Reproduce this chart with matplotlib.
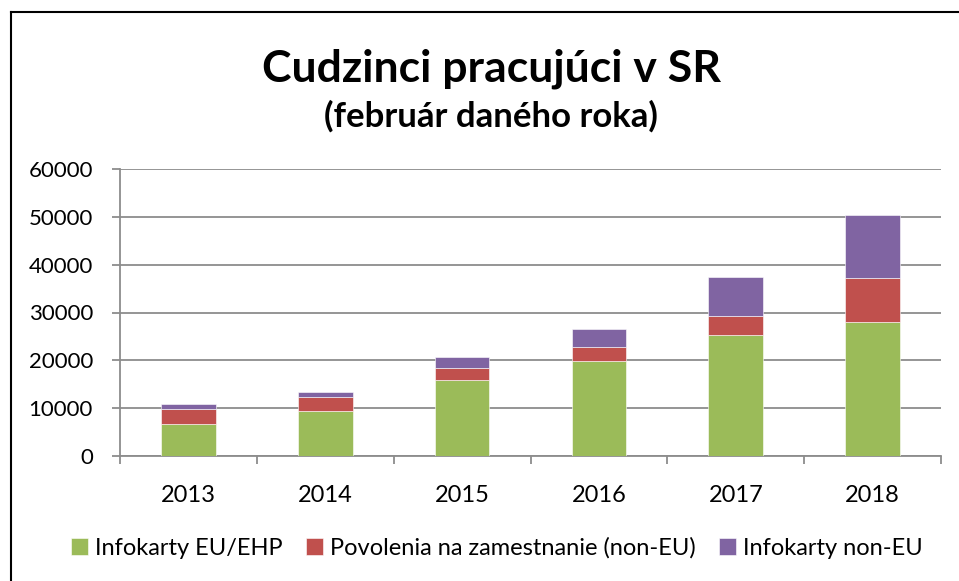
import matplotlib
matplotlib.use("Agg")
import matplotlib.pyplot as plt
from matplotlib.lines import Line2D
import numpy as np

years = ['2013', '2014', '2015', '2016', '2017', '2018']
infokarty_eu = [6700, 9450, 15950, 19850, 25200, 28100]
povolenia = [3150, 2900, 2500, 3000, 4100, 9050]
infokarty_non_eu = [1000, 1050, 2150, 3750, 8100, 13200]

labels = ['Infokarty EU/EHP', 'Povolenia na zamestnanie (non-EU)', 'Infokarty non-EU']
colors = ['#9BBB59', '#C0504D', '#8064A2']

plt.rcParams['font.family'] = ['Lato', 'DejaVu Sans']

fig = plt.figure(figsize=(9.59, 5.81), dpi=100)
ax = fig.add_axes([120/959, 1 - 456/581, (941 - 120)/959, (456 - 169)/581])

x = np.arange(len(years))
bottom = np.zeros(len(years))
for vals, lab, col in zip([infokarty_eu, povolenia, infokarty_non_eu], labels, colors):
    ax.bar(x, vals, width=0.4, bottom=bottom, color=col, label=lab,
           edgecolor='white', linewidth=0.4, zorder=3)
    bottom += np.array(vals)

ax.set_xlim(-0.5, len(years) - 0.5)
ax.set_ylim(0, 60000)
ax.set_yticks(range(0, 60001, 10000))
ax.yaxis.grid(True, color='#8c8c8c', linewidth=1.3, zorder=0)
ax.set_axisbelow(True)

for s in ['top', 'right']:
    ax.spines[s].set_visible(False)
ax.spines['left'].set_color('#8c8c8c')
ax.spines['bottom'].set_color('#8c8c8c')
ax.spines['left'].set_linewidth(1.3)
ax.spines['bottom'].set_linewidth(1.3)

ax.set_xticks(x)
ax.set_xticklabels(years)
ax.set_xticks(np.arange(-0.5, len(years), 1), minor=True)
ax.tick_params(axis='x', which='major', length=0, pad=21, labelsize=17)
ax.tick_params(axis='x', which='minor', length=6, width=1.3, color='#8c8c8c')
ax.tick_params(axis='y', length=6, width=1.3, color='#8c8c8c', pad=13.5, labelsize=16)

fig.text(0.512, 0.882, 'Cudzinci pracujúci v SR', ha='center', va='center',
         fontsize=32, fontweight='bold')
fig.text(0.512, 0.8, '(február daného roka)', ha='center', va='center',
         fontsize=25, fontweight='bold')

fig.legend(loc='center', bbox_to_anchor=(0.518, 0.057), ncol=3, frameon=False,
           fontsize=17, handlelength=0.7, handleheight=0.7, handletextpad=0.3,
           columnspacing=1.0)

# frame of the chart box
fig.add_artist(Line2D([11/959, 11/959], [0, 1 - 12/581], color='black', linewidth=1.5))
fig.add_artist(Line2D([11/959, 1], [1 - 12/581, 1 - 12/581], color='black', linewidth=1.5))

fig.savefig('out.png', dpi=100)
